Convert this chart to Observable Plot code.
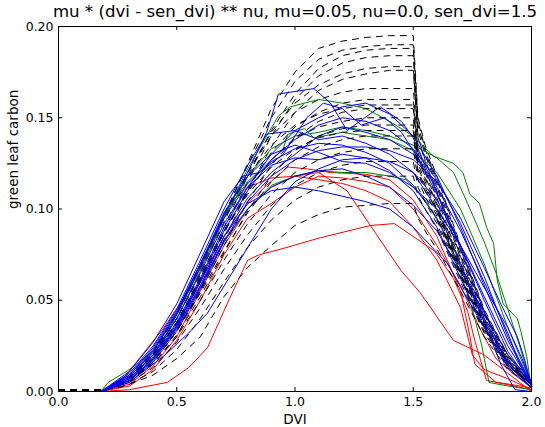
<!DOCTYPE html>
<html><head><meta charset="utf-8">
<script src="https://cdn.jsdelivr.net/npm/d3@7"></script>
<script src="https://cdn.jsdelivr.net/npm/@observablehq/plot@0.6"></script>
<style>body{margin:0;background:#fff}</style>
</head><body><div id="chart"></div>
<script>
const titleText = "mu * (dvi - sen_dvi) ** nu, mu=0.05, nu=0.0, sen_dvi=1.5";
const xLabel = "DVI";
const yLabel = "green leaf carbon";
const xTicks = [0, 0.5, 1.0, 1.5, 2.0];
const yTicks = [0, 0.05, 0.10, 0.15, 0.20];

// simulated (black dashed) series, shared DVI grid
const simDvi = [0, 0.1, 0.18, 0.25, 0.3, 0.4, 0.5, 0.6, 0.7, 0.8, 0.9, 1.0, 1.1, 1.2, 1.3, 1.4, 1.5, 1.52, 1.55, 1.6, 1.7, 1.8, 1.9, 2.0];
const sim01 = [0.001,0.001,0.001,0.004,0.008,0.020,0.040,0.066,0.096,0.125,0.155,0.175,0.188,0.192,0.194,0.195,0.195,0.150,0.135,0.118,0.080,0.045,0.020,0.006];
const sim02 = [0.001,0.001,0.001,0.004,0.008,0.021,0.042,0.068,0.097,0.124,0.150,0.170,0.182,0.187,0.189,0.190,0.190,0.148,0.133,0.116,0.079,0.044,0.020,0.006];
const sim03 = [0.001,0.001,0.001,0.003,0.007,0.019,0.038,0.063,0.090,0.118,0.143,0.163,0.177,0.184,0.187,0.188,0.188,0.146,0.132,0.114,0.077,0.043,0.019,0.005];
const sim04 = [0.001,0.001,0.001,0.003,0.006,0.017,0.035,0.060,0.088,0.115,0.140,0.160,0.173,0.180,0.183,0.184,0.184,0.143,0.130,0.112,0.075,0.042,0.018,0.005];
const sim05 = [0.001,0.001,0.001,0.004,0.008,0.020,0.040,0.065,0.093,0.120,0.142,0.158,0.168,0.174,0.177,0.178,0.178,0.140,0.127,0.110,0.074,0.041,0.018,0.005];
const sim06 = [0.001,0.001,0.001,0.003,0.006,0.016,0.033,0.056,0.083,0.110,0.134,0.153,0.165,0.171,0.174,0.176,0.176,0.139,0.126,0.109,0.073,0.040,0.017,0.005];
const sim07 = [0.001,0.001,0.001,0.004,0.008,0.021,0.042,0.068,0.095,0.120,0.140,0.153,0.160,0.164,0.166,0.166,0.166,0.134,0.122,0.106,0.071,0.039,0.017,0.005];
const sim08 = [0.001,0.001,0.001,0.003,0.007,0.018,0.037,0.061,0.087,0.111,0.131,0.145,0.153,0.158,0.160,0.160,0.160,0.131,0.120,0.104,0.070,0.038,0.016,0.005];
const sim09 = [0.001,0.001,0.001,0.004,0.009,0.022,0.043,0.069,0.095,0.118,0.135,0.146,0.152,0.155,0.157,0.157,0.157,0.129,0.118,0.103,0.069,0.038,0.016,0.004];
const sim10 = [0.001,0.001,0.001,0.003,0.006,0.016,0.033,0.055,0.080,0.104,0.124,0.139,0.148,0.153,0.155,0.155,0.155,0.128,0.117,0.102,0.068,0.037,0.016,0.004];
const sim11 = [0.001,0.001,0.001,0.003,0.007,0.019,0.038,0.062,0.087,0.109,0.127,0.139,0.145,0.148,0.150,0.150,0.150,0.125,0.115,0.100,0.067,0.036,0.015,0.004];
const sim12 = [0.001,0.001,0.001,0.003,0.006,0.015,0.031,0.052,0.076,0.099,0.118,0.132,0.140,0.144,0.146,0.146,0.146,0.123,0.113,0.099,0.066,0.036,0.015,0.004];
const sim13 = [0.001,0.001,0.001,0.004,0.008,0.020,0.040,0.064,0.088,0.108,0.123,0.133,0.139,0.142,0.143,0.143,0.143,0.121,0.112,0.098,0.065,0.035,0.015,0.004];
const sim14 = [0.001,0.001,0.001,0.003,0.006,0.016,0.033,0.054,0.077,0.098,0.115,0.127,0.134,0.138,0.140,0.140,0.140,0.120,0.110,0.096,0.064,0.035,0.014,0.004];
const sim15 = [0.001,0.001,0.001,0.003,0.006,0.015,0.030,0.050,0.072,0.092,0.108,0.120,0.127,0.131,0.133,0.133,0.133,0.116,0.107,0.094,0.063,0.034,0.014,0.004];
const sim16 = [0.001,0.001,0.001,0.003,0.005,0.013,0.027,0.046,0.067,0.086,0.102,0.113,0.120,0.124,0.126,0.126,0.126,0.112,0.104,0.092,0.062,0.033,0.014,0.004];
const sim17 = [0.001,0.001,0.001,0.002,0.004,0.011,0.023,0.040,0.060,0.079,0.094,0.105,0.112,0.116,0.118,0.118,0.118,0.107,0.100,0.089,0.060,0.032,0.013,0.004];
const sim18 = [0.001,0.001,0.001,0.002,0.004,0.009,0.018,0.030,0.052,0.068,0.080,0.091,0.097,0.101,0.102,0.103,0.103,0.095,0.088,0.078,0.055,0.030,0.012,0.003];

// observed series: [dvi, green leaf carbon]
const red1 = [[0,0],[0.18,0],[0.3,0.001],[0.46,0.005],[0.55,0.013],[0.63,0.024],[0.72,0.05],[0.8,0.072],[0.85,0.075],[0.94,0.078],[1.1,0.084],[1.32,0.091],[1.42,0.092],[1.59,0.077],[1.67,0.062],[1.73,0.044],[1.76,0.028],[1.81,0.006],[2.0,0.002]];
const red2 = [[0,0],[0.18,0],[0.3,0.004],[0.4,0.014],[0.5,0.03],[0.6,0.055],[0.7,0.08],[0.8,0.1],[0.9,0.112],[1.0,0.118],[1.1,0.12],[1.22,0.11],[1.36,0.083],[1.45,0.066],[1.53,0.054],[1.67,0.028],[1.8,0.02],[2.0,0.0]];
const red3 = [[0,0],[0.18,0],[0.28,0.008],[0.39,0.026],[0.44,0.034],[0.55,0.055],[0.65,0.08],[0.73,0.104],[0.8,0.112],[0.9,0.117],[1.0,0.118],[1.1,0.116],[1.2,0.114],[1.3,0.11],[1.4,0.104],[1.5,0.09],[1.6,0.072],[1.7,0.046],[1.75,0.02],[1.8,0.012],[1.9,0.007],[2.0,0.001]];
const red4 = [[0,0],[0.18,0],[0.3,0.006],[0.4,0.018],[0.5,0.036],[0.6,0.06],[0.7,0.085],[0.8,0.103],[0.88,0.113],[0.97,0.123],[1.05,0.122],[1.15,0.12],[1.3,0.119],[1.4,0.116],[1.5,0.105],[1.6,0.085],[1.7,0.055],[1.74,0.03],[1.76,0.015],[1.85,0.005],[2.0,0.001]];
const red5 = [[0,0],[0.18,0],[0.3,0.003],[0.4,0.012],[0.5,0.028],[0.6,0.05],[0.7,0.075],[0.8,0.095],[0.9,0.103],[1.0,0.112],[1.1,0.118],[1.2,0.117],[1.3,0.115],[1.4,0.112],[1.5,0.1],[1.6,0.08],[1.7,0.058],[1.78,0.035],[1.85,0.018],[1.92,0.01],[2.0,0.002]];

const green1 = [[0,0],[0.18,0],[0.21,0.005],[0.3,0.012],[0.39,0.021],[0.44,0.027],[0.55,0.055],[0.65,0.082],[0.73,0.104],[0.8,0.122],[0.88,0.14],[0.93,0.151],[0.98,0.156],[1.1,0.16],[1.2,0.158],[1.3,0.155],[1.4,0.148],[1.5,0.14],[1.585,0.129],[1.67,0.125],[1.71,0.12],[1.74,0.108],[1.78,0.103],[1.81,0.09],[1.84,0.081],[1.855,0.061],[1.88,0.048],[1.94,0.04],[1.955,0.033],[1.98,0.019],[2.0,0.001]];
const green2 = [[0,0],[0.18,0],[0.3,0.007],[0.4,0.02],[0.5,0.04],[0.6,0.066],[0.7,0.095],[0.8,0.118],[0.9,0.133],[1.0,0.14],[1.1,0.142],[1.2,0.145],[1.3,0.143],[1.4,0.14],[1.5,0.135],[1.6,0.128],[1.67,0.12],[1.72,0.106],[1.76,0.094],[1.8,0.082],[1.85,0.065],[1.9,0.045],[1.95,0.025],[2.0,0.003]];
const green3 = [[0,0],[0.18,0],[0.3,0.006],[0.4,0.017],[0.5,0.035],[0.6,0.058],[0.7,0.082],[0.8,0.1],[0.9,0.113],[1.0,0.118],[1.1,0.121],[1.2,0.12],[1.3,0.12],[1.4,0.118],[1.47,0.116],[1.55,0.105],[1.62,0.09],[1.7,0.065],[1.75,0.045],[1.79,0.025],[1.82,0.005],[1.9,0.003],[2.0,0.001]];
const green4 = [[0,0],[0.18,0],[0.3,0.008],[0.4,0.022],[0.5,0.043],[0.6,0.07],[0.7,0.097],[0.8,0.115],[0.9,0.127],[0.95,0.133],[0.97,0.141],[1.04,0.144],[1.08,0.139],[1.2,0.142],[1.3,0.14],[1.4,0.138],[1.5,0.132],[1.6,0.12],[1.7,0.1],[1.8,0.07],[1.9,0.035],[2.0,0.004]];

const blue1 = [[0,0],[0.18,0],[0.3,0.008],[0.4,0.022],[0.5,0.042],[0.6,0.068],[0.7,0.097],[0.8,0.12],[0.88,0.142],[0.93,0.163],[1.08,0.166],[1.15,0.158],[1.22,0.143],[1.36,0.156],[1.45,0.148],[1.5,0.139],[1.58,0.115],[1.68,0.085],[1.78,0.05],[1.88,0.02],[2.0,0.002]];
const blue2 = [[0,0],[0.18,0],[0.3,0.007],[0.4,0.02],[0.5,0.038],[0.6,0.062],[0.7,0.09],[0.8,0.112],[0.9,0.13],[1.0,0.143],[1.1,0.15],[1.2,0.156],[1.3,0.158],[1.4,0.152],[1.5,0.14],[1.6,0.118],[1.7,0.09],[1.8,0.058],[1.9,0.028],[2.0,0.004]];
const blue3 = [[0,0],[0.18,0],[0.3,0.01],[0.4,0.025],[0.5,0.045],[0.6,0.072],[0.7,0.1],[0.8,0.124],[0.88,0.141],[1.0,0.143],[1.1,0.138],[1.2,0.14],[1.3,0.136],[1.4,0.13],[1.5,0.12],[1.6,0.1],[1.7,0.07],[1.8,0.04],[1.9,0.015],[2.0,0.002]];
const blue4 = [[0,0],[0.18,0],[0.3,0.006],[0.4,0.018],[0.5,0.035],[0.6,0.058],[0.7,0.085],[0.8,0.106],[0.9,0.12],[1.0,0.13],[1.1,0.14],[1.2,0.145],[1.3,0.142],[1.4,0.138],[1.5,0.13],[1.6,0.112],[1.7,0.088],[1.8,0.06],[1.9,0.032],[1.95,0.015],[2.0,0.003]];
const blue5 = [[0,0],[0.18,0],[0.3,0.005],[0.4,0.016],[0.5,0.033],[0.6,0.056],[0.7,0.082],[0.8,0.104],[0.9,0.118],[1.0,0.127],[1.1,0.132],[1.2,0.134],[1.3,0.134],[1.4,0.132],[1.5,0.127],[1.6,0.115],[1.7,0.095],[1.8,0.068],[1.87,0.048],[1.94,0.03],[1.97,0.018],[2.0,0.003]];
const blue6 = [[0,0],[0.18,0],[0.3,0.009],[0.4,0.023],[0.5,0.043],[0.6,0.07],[0.7,0.095],[0.8,0.114],[0.9,0.126],[1.0,0.133],[1.1,0.136],[1.2,0.135],[1.3,0.131],[1.4,0.125],[1.5,0.113],[1.6,0.095],[1.7,0.068],[1.8,0.038],[1.87,0.015],[1.93,0.001],[2.0,0.0]];
const blue7 = [[0,0],[0.18,0],[0.3,0.006],[0.4,0.017],[0.5,0.034],[0.6,0.057],[0.7,0.083],[0.8,0.1],[0.9,0.112],[1.0,0.118],[1.1,0.121],[1.2,0.122],[1.3,0.118],[1.4,0.112],[1.5,0.102],[1.6,0.088],[1.7,0.066],[1.8,0.043],[1.9,0.02],[2.0,0.003]];
const blue8 = [[0,0],[0.18,0],[0.3,0.005],[0.45,0.02],[0.55,0.032],[0.63,0.043],[0.72,0.062],[0.81,0.081],[0.9,0.1],[1.0,0.115],[1.1,0.122],[1.2,0.127],[1.3,0.128],[1.4,0.126],[1.5,0.12],[1.6,0.105],[1.7,0.08],[1.8,0.052],[1.9,0.025],[2.0,0.004]];
const blue9 = [[0,0],[0.18,0],[0.3,0.011],[0.4,0.027],[0.5,0.048],[0.6,0.076],[0.7,0.104],[0.78,0.118],[0.85,0.12],[0.95,0.13],[1.05,0.15],[1.12,0.158],[1.2,0.155],[1.28,0.146],[1.38,0.15],[1.45,0.142],[1.52,0.128],[1.6,0.108],[1.7,0.08],[1.8,0.05],[1.9,0.022],[2.0,0.003]];
const blue10 = [[0,0],[0.18,0],[0.3,0.008],[0.4,0.021],[0.5,0.04],[0.6,0.065],[0.7,0.092],[0.8,0.112],[0.9,0.124],[1.0,0.128],[1.1,0.127],[1.2,0.13],[1.3,0.128],[1.4,0.121],[1.5,0.11],[1.6,0.09],[1.7,0.062],[1.8,0.035],[1.9,0.013],[2.0,0.002]];
const blue11 = [[0,0],[0.18,0],[0.3,0.007],[0.4,0.019],[0.5,0.037],[0.6,0.061],[0.7,0.088],[0.8,0.11],[0.9,0.127],[1.0,0.138],[1.1,0.146],[1.2,0.15],[1.3,0.148],[1.4,0.143],[1.5,0.133],[1.6,0.116],[1.7,0.092],[1.8,0.063],[1.9,0.03],[2.0,0.004]];
const blue12 = [[0,0],[0.18,0],[0.3,0.006],[0.4,0.018],[0.5,0.036],[0.6,0.06],[0.7,0.085],[0.8,0.103],[0.9,0.11],[1.0,0.112],[1.1,0.11],[1.2,0.107],[1.3,0.104],[1.4,0.1],[1.5,0.09],[1.645,0.07],[1.71,0.055],[1.8,0.035],[1.9,0.015],[2.0,0.002]];
const blue13 = [[0,0],[0.18,0],[0.3,0.009],[0.4,0.024],[0.5,0.044],[0.6,0.07],[0.7,0.098],[0.8,0.118],[0.9,0.13],[1.0,0.135],[1.1,0.131],[1.2,0.126],[1.3,0.125],[1.4,0.12],[1.5,0.112],[1.6,0.1],[1.7,0.08],[1.8,0.057],[1.9,0.035],[1.96,0.018],[2.0,0.004]];

const simSeries = [sim01,sim02,sim03,sim04,sim05,sim06,sim07,sim08,sim09,sim10,sim11,sim12,sim13,sim14,sim15,sim16,sim17,sim18];
const redSeries = [red1,red2,red3,red4,red5];
const greenSeries = [green1,green2,green3,green4];
const blueSeries = [blue1,blue2,blue3,blue4,blue5,blue6,blue7,blue8,blue9,blue10,blue11,blue12,blue13];

const simRows = simSeries.flatMap((s, k) => simDvi.map((d, i) => ({id: "sim" + k, dvi: d, val: s[i]})));
const obsRows = (list, name) => list.flatMap((s, k) => s.map(([d, v]) => ({id: name + k, dvi: d, val: v})));
const redRows = obsRows(redSeries, "r");
const greenRows = obsRows(greenSeries, "g");
const blueRows = obsRows(blueSeries, "b");
const blueA = blueRows.filter(r => +r.id.slice(1) < 7);
const blueB = blueRows.filter(r => +r.id.slice(1) >= 7);
const simA = simRows.filter(r => +r.id.slice(3) < 9);
const simB = simRows.filter(r => +r.id.slice(3) >= 9);

const W = 545, H = 427, mL = 58, mR = 14, mT = 26, mB = 36;
const innerW = W - mL - mR, innerH = H - mT - mB;
const dash = "6,6";

const chart = Plot.plot({
  width: W, height: H,
  marginLeft: mL, marginRight: mR, marginTop: mT, marginBottom: mB,
  style: {fontFamily: "DejaVu Sans", fontSize: "12px", background: "#fff", color: "#000"},
  x: {domain: [0, 2], label: null},
  y: {domain: [0, 0.2], label: null},
  marks: [
    Plot.line(redRows, {x: "dvi", y: "val", z: "id", stroke: "#ff0000", strokeWidth: 1}),
    Plot.line(simA, {x: "dvi", y: "val", z: "id", stroke: "#000", strokeWidth: 1, strokeDasharray: dash}),
    Plot.line(greenRows, {x: "dvi", y: "val", z: "id", stroke: "#008000", strokeWidth: 1}),
    Plot.line(blueA, {x: "dvi", y: "val", z: "id", stroke: "#0000ff", strokeWidth: 1}),
    Plot.line(simB, {x: "dvi", y: "val", z: "id", stroke: "#000", strokeWidth: 1, strokeDasharray: dash}),
    Plot.line(blueB, {x: "dvi", y: "val", z: "id", stroke: "#0000ff", strokeWidth: 1}),
    Plot.frame({stroke: "#000", strokeWidth: 1}),
    Plot.tickX(xTicks, {x: d => d, stroke: "#000", insetTop: innerH - 4}),
    Plot.tickX(xTicks, {x: d => d, stroke: "#000", insetBottom: innerH - 4}),
    Plot.tickY(yTicks, {y: d => d, stroke: "#000", insetRight: innerW - 4}),
    Plot.tickY(yTicks, {y: d => d, stroke: "#000", insetLeft: innerW - 4}),
    Plot.axisX({ticks: xTicks, tickSize: 0, tickPadding: 6, tickFormat: d3.format(".1f"), fontSize: 12.5, label: null}),
    Plot.axisY({ticks: yTicks, tickSize: 0, tickPadding: 5, tickFormat: d3.format(".2f"), fontSize: 12.5, label: null}),
    Plot.text([titleText], {frameAnchor: "top", dy: -15, fontSize: 16.6, lineAnchor: "middle", fill: "#000"}),
    Plot.text([xLabel], {frameAnchor: "bottom", dy: 28, fontSize: 13.5, lineAnchor: "middle", fill: "#000"}),
    Plot.text([yLabel], {frameAnchor: "left", dx: -45, rotate: -90, fontSize: 13.5, lineAnchor: "middle", fill: "#000"})
  ]
});
document.getElementById("chart").append(chart);
</script>
</body></html>
